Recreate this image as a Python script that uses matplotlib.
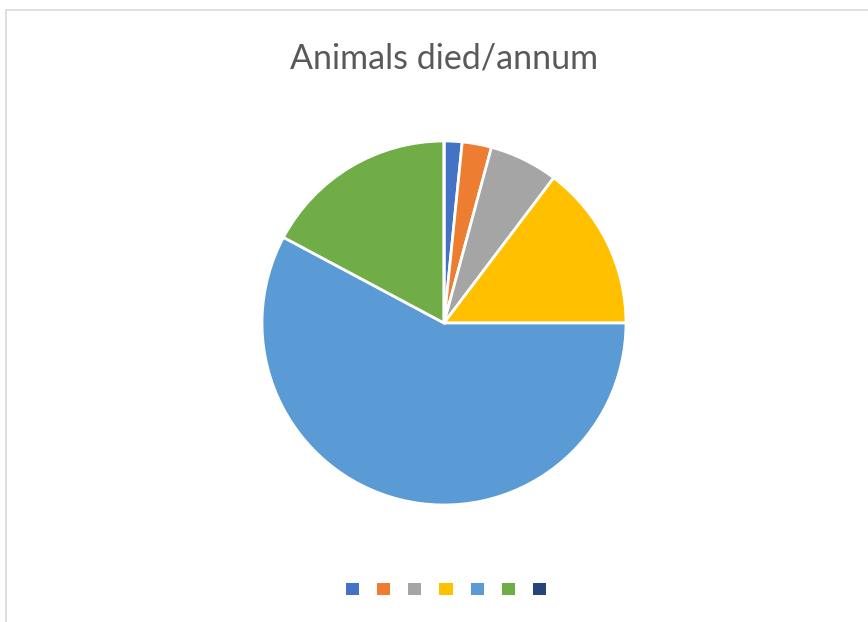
import matplotlib.pyplot as plt
from matplotlib.patches import Patch, Rectangle

# Share of animals died per annum (in %)
categories = ["A", "B", "C", "D", "E", "F", "G"]
values = [1.6, 2.6, 6.1, 14.7, 57.8, 17.2, 0.0]
colors = ["#4472C4", "#ED7D31", "#A5A5A5", "#FFC000", "#5B9BD5", "#70AD47", "#264478"]

W, H = 868, 622
fig = plt.figure(figsize=(W / 100, H / 100), dpi=100)

# chart border (clipped on the right and bottom like the original)
fig.patches.append(Rectangle((6 / W, -0.1), 1.2, (H - 10) / H + 0.1,
                             transform=fig.transFigure, fill=False,
                             edgecolor="#D9D9D9", linewidth=1.2))

cx, cy, r = 444, 323, 182
ax = fig.add_axes([(cx - r) / W, (H - cy - r) / H, 2 * r / W, 2 * r / H])
ax.pie(values, colors=colors, startangle=90, counterclock=False,
       wedgeprops=dict(edgecolor="white", linewidth=2.0), radius=1.0)
ax.set_xlim(-1, 1)
ax.set_ylim(-1, 1)
ax.set_aspect("auto")
ax.axis("off")

fig.text(cx / W, 1 - 58 / H, "Animals died/annum", ha="center", va="center",
         fontsize=24.5, color="#595959", family=["Lato", "DejaVu Sans"])

handles = [Patch(facecolor=c, edgecolor="none") for c in colors]
fig.legend(handles, [""] * len(handles), loc="center", ncol=len(handles),
           bbox_to_anchor=(446 / W, 1 - 590 / H), frameon=False, fontsize=9.4,
           handlelength=1.0, handleheight=1.0, handletextpad=0.0,
           columnspacing=1.38, borderpad=0)

fig.savefig("out.png", dpi=100)
